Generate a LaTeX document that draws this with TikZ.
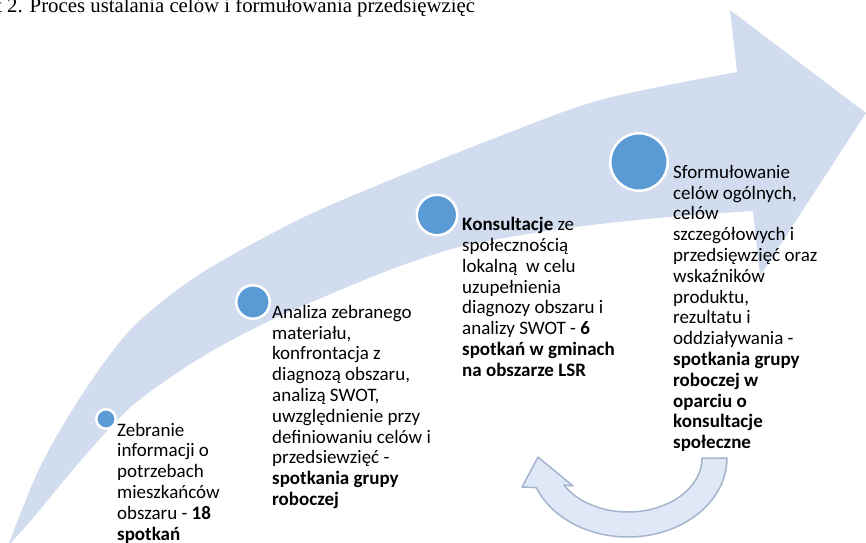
\documentclass[tikz,border=0pt]{standalone}
\usepackage{fontspec}
\setmainfont{Liberation Serif}
\newfontfamily\calibri{Carlito}
\usepackage{tikz}

\definecolor{bandblue}{RGB}{209,220,239}
\definecolor{dotblue}{RGB}{91,155,213}
\definecolor{loopfill}{RGB}{222,232,246}
\definecolor{loopline}{RGB}{165,181,206}

\begin{document}
\begin{tikzpicture}[x=1pt,y=-1pt,
  stage dot/.style={circle,fill=dotblue,draw=white,
  line width=2.5pt,inner sep=0pt},
  stage text/.style={anchor=base west,align=left,inner sep=0pt,
  font=\calibri\fontsize{19}{20.8}\selectfont}]
  \useasboundingbox (0,0) rectangle (866,542);

  % the big curved arrow
  \fill[bandblue] plot[smooth] coordinates {(8,546) (40,467) (83,393)
      (133,327) (200,274) (300,219) (400,176) (490,140) (600,100) (737,72)}
    -- (730,10) -- (866,113) -- (760,276) -- (753,211)
    -- plot[smooth] coordinates {(753,211) (680,216) (600,224) (540,232)
      (463,246) (400,266) (333,293) (267,322) (200,358) (133,405) (83,458)
      (33,518) (8,546)} -- cycle;

  % the loop arrow under the last stage
  \filldraw[fill=loopfill,draw=loopline,line width=1.5pt,line join=round]
    plot[domain=0:158,samples=40] ({628+99*cos(\x)},{458+79*sin(\x)})
    -- (522,487) -- (538,457) -- (573,486)
    -- plot[domain=150:0,samples=40] ({628+74*cos(\x)},{458+54*sin(\x)})
    -- cycle;

  \node[anchor=base west,inner sep=0pt,font=\fontsize{20.8}{24}\selectfont]
    (title) at (-4,12.5) {t 2. Proces ustalania celów i formułowania przedsięwzięć};

  \node[stage dot,minimum size=19.5pt] (d1) at (106,419) {};
  \node[stage dot,minimum size=33.5pt] (d2) at (253,302) {};
  \node[stage dot,minimum size=40.5pt] (d3) at (437,215) {};
  \node[stage dot,minimum size=57.5pt] (d4) at (639,162) {};

  % base of a stage text = base of its last line
  \node[stage text] (s1) at (117,540) {Zebranie\\informacji o\\potrzebach\\
    mieszkańców\\obszaru - \textbf{18}\\\textbf{spotkań}};
  \node[stage text] (s2) at (272,505.5) {Analiza zebranego\\materiału,\\
    konfrontacja z\\diagnozą obszaru,\\analizą SWOT,\\uwzględnienie przy\\
    definiowaniu celów i\\przedsiewzięć -\\\textbf{spotkania grupy}\\
    \textbf{roboczej}};
  \node[stage text] (s3) at (462,376.3) {\textbf{Konsultacje} ze\\
    społecznością\\lokalną\ \ w celu\\uzupełnienia\\diagnozy obszaru i\\
    analizy SWOT - \textbf{6}\\\textbf{spotkań w gminach}\\
    \textbf{na obszarze LSR}};
  \node[stage text] (s4) at (673,448.7) {Sformułowanie\\celów ogólnych,\\
    celów\\szczegółowych i\\przedsięwzięć oraz\\wskaźników\\produktu,\\
    rezultatu i\\oddziaływania -\\\textbf{spotkania grupy}\\
    \textbf{roboczej w}\\\textbf{oparciu o}\\\textbf{konsultacje}\\
    \textbf{społeczne}};
\end{tikzpicture}
\end{document}
